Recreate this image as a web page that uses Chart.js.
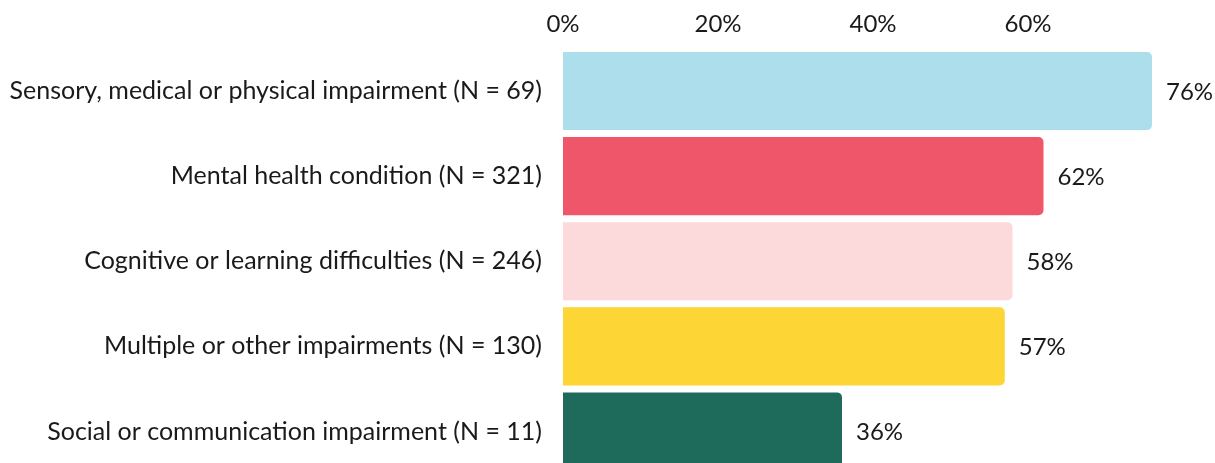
<!DOCTYPE html>
<html>
<head>
<meta charset="utf-8">
<script src="https://cdn.jsdelivr.net/npm/chart.js@4"></script>
<style>
  html, body { margin: 0; padding: 0; background: #fff; overflow: hidden; }
</style>
</head>
<body>
<canvas id="chart" width="1215" height="474"></canvas>
<script>
var categories = [
	'Sensory, medical or physical impairment (N = 69)',
	'Mental health condition (N = 321)',
	'Cognitive or learning difficulties (N = 246)',
	'Multiple or other impairments (N = 130)',
	'Social or communication impairment (N = 11)'
];
var values = [76, 62, 58, 57, 36];
var barColors = ['#acdfeb', '#f0566a', '#fcd9da', '#fdd535', '#1e6b5b'];
var tickValues = [0, 20, 40, 60];

var FONT = 'Lato';
Chart.defaults.font.family = FONT;
Chart.defaults.color = '#1a1a1a';

// percentage text to the right of each bar
var valueLabels = {
	id: 'valueLabels',
	afterDatasetsDraw: function (chart) {
		var ctx = chart.ctx;
		var meta = chart.getDatasetMeta(0);
		ctx.save();
		ctx.font = '24px ' + FONT;
		ctx.fillStyle = '#1a1a1a';
		ctx.textAlign = 'left';
		ctx.textBaseline = 'middle';
		meta.data.forEach(function (bar, i) {
			ctx.fillText(values[i] + '%', bar.x + 14, bar.y + 1);
		});
		ctx.restore();
	}
};

new Chart(document.getElementById('chart'), {
	type: 'bar',
	data: {
		labels: categories,
		datasets: [{
			data: values,
			backgroundColor: barColors,
			borderRadius: { topRight: 5, bottomRight: 5 },
			borderSkipped: 'left',
			categoryPercentage: 1,
			barPercentage: 0.918
		}]
	},
	options: {
		indexAxis: 'y',
		responsive: false,
		animation: false,
		layout: { padding: { left: 0, right: 47.5, top: 0, bottom: 0 } },
		plugins: { legend: { display: false }, tooltip: { enabled: false } },
		scales: {
			x: {
				position: 'top',
				min: 0,
				max: 78,
				grid: { display: false },
				border: { display: false },
				afterBuildTicks: function (scale) {
					scale.ticks = tickValues.map(function (v) { return { value: v }; });
				},
				afterFit: function (scale) {
					scale.height = 48.5;
					scale.paddingRight = 0;
				},
				ticks: {
					padding: 2,
					font: { size: 24 },
					callback: function (v) { return v + '%'; }
				}
			},
			y: {
				grid: { display: false },
				border: { display: false },
				afterFit: function (scale) {
					scale.width = 563;
					scale.paddingTop = 0;
					scale.paddingBottom = 0;
				},
				ticks: { padding: 13, font: { size: 25 } }
			}
		}
	},
	plugins: [valueLabels]
});
</script>
</body>
</html>
